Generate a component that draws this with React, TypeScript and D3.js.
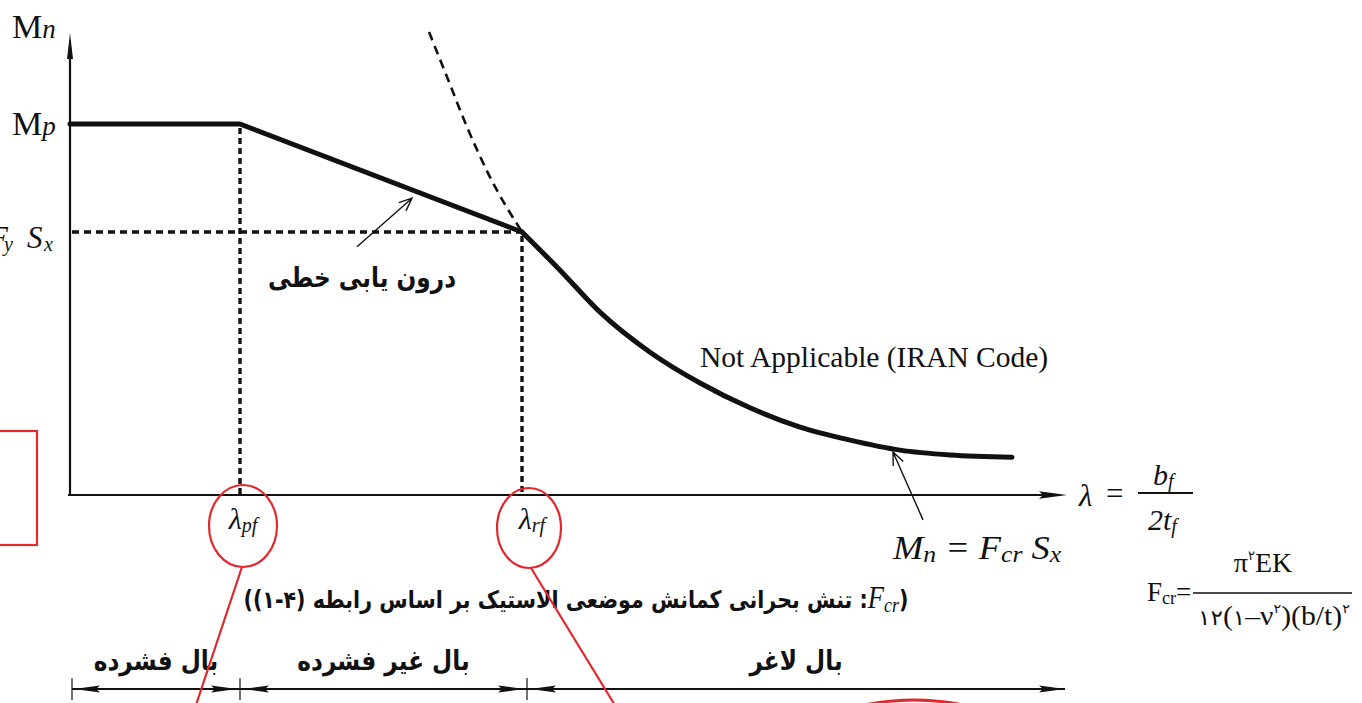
import React from "react";
import * as d3 from "d3";

// Slenderness λ = bf / 2tf along x (arbitrary units), nominal moment Mn / Mp along y.
const lambdaPf = 17.0;
const lambdaRf = 45.2;
const lambdaAxisEnd = 99.7;
const momentAxisEnd = 1.245;
const mpLevel = 1.0;
const fySxLevel = 0.709;

// Plastic plateau and linear interpolation branch
const inelasticLambda = [0, 17.0, 45.2];
const inelasticMoment = [1.0, 1.0, 0.709];

// Elastic local-buckling branch Mn = Fcr Sx (solid part)
const elasticLambda = [45.2, 49.0, 53.0, 58.0, 63.0, 68.0, 73.0, 78.0, 83.0, 88.0, 94.2];
const elasticMoment = [0.709, 0.606, 0.493, 0.385, 0.302, 0.235, 0.183, 0.148, 0.121, 0.108, 0.102];

// Elastic curve continued above Fy Sx (dashed, not valid)
const bucklingLambda = [35.9, 37.7, 39.7, 42.0, 45.2];
const bucklingMoment = [1.248, 1.127, 0.992, 0.857, 0.709];

// Flange classification zones below the chart
const zoneBounds = [0.2, 17.0, 45.7, 99.5];
const zoneLabels = ["بال فشرده", "بال غیر فشرده", "بال لاغر"];

const SERIF = "'Liberation Serif', 'Times New Roman', serif";
const FA = "'DejaVu Sans', sans-serif";
const RED = "#e2282c";
const INK = "#111";
const FA_SQUEEZE = 0.86;

type P = [number, number];
const zip = (a: number[], b: number[]): P[] => a.map((v, i) => [v, b[i]]);

function filledHead(tipX: number, tipY: number, dir: 1 | -1, len = 26, half = 3.6) {
  const bx = tipX - dir * len;
  return `M${tipX},${tipY} L${bx},${tipY - half} L${bx + dir * 4},${tipY} L${bx},${tipY + half} Z`;
}

function openArrow(x1: number, y1: number, x2: number, y2: number, len = 13, spread = 0.42) {
  const a = Math.atan2(y2 - y1, x2 - x1);
  const p1: P = [x2 - len * Math.cos(a - spread), y2 - len * Math.sin(a - spread)];
  const p2: P = [x2 - len * Math.cos(a + spread), y2 - len * Math.sin(a + spread)];
  return `M${x1},${y1} L${x2},${y2} M${p1[0]},${p1[1]} L${x2},${y2} L${p2[0]},${p2[1]}`;
}

// Persian label, centred and slightly condensed
function FaLabel({ cx, y, size, children }: { cx: number; y: number; size: number; children: React.ReactNode }) {
  return (
    <g transform={`translate(${cx},${y}) scale(${FA_SQUEEZE},1)`}>
      <text x={0} y={0} textAnchor="middle" direction="rtl" fontFamily={FA} fontWeight="bold" fontSize={size} fill={INK}>
        {children}
      </text>
    </g>
  );
}

export default function App() {
  const W = 1362;
  const H = 703;
  const x = d3.scaleLinear().domain([0, 100]).range([70, 1070]);
  const y = d3.scaleLinear().domain([0, 1]).range([495, 124]);

  const straight = d3.line<P>().x((d) => x(d[0])).y((d) => y(d[1]));
  const smooth = d3
    .line<P>()
    .x((d) => x(d[0]))
    .y((d) => y(d[1]))
    .curve(d3.curveMonotoneX);

  const x0 = x(0);
  const y0 = y(0);
  const xPf = x(lambdaPf);
  const xRf = x(lambdaRf);
  const yMp = y(mpLevel);
  const yFy = y(fySxLevel);
  const xEnd = x(lambdaAxisEnd);
  const yTop = y(momentAxisEnd);

  const dimY = 689;
  const zoneX = zoneBounds.map((b) => x(b));

  // annotation arrows, anchored in chart units
  const interpArrow = openArrow(x(28.7), y(0.669), x(34.2), y(0.8), 14, 0.4);
  const fcrArrow = openArrow(x(85.3), y(-0.067), x(82.3), y(0.116), 14, 0.4);

  return (
    <svg
      width={W}
      height={H}
      style={{ position: "absolute", left: 0, top: 0, display: "block", background: "#fff" }}
    >
      <rect width={W} height={H} fill="#fff" />

      {/* axes */}
      <line x1={x0} y1={y0} x2={x0} y2={yTop + 20} stroke={INK} strokeWidth={2.2} />
      <path d={`M${x0},${yTop} L${x0 - 3},${yTop + 26} L${x0 + 3},${yTop + 26} Z`} fill={INK} />
      <line x1={x0 - 2} y1={y0} x2={xEnd - 20} y2={y0} stroke={INK} strokeWidth={2.2} />
      <path d={filledHead(xEnd, y0, 1, 28, 3.8)} fill={INK} />

      {/* guide lines */}
      <line x1={x0 + 2} y1={yFy} x2={xRf} y2={yFy} stroke={INK} strokeWidth={3.4} strokeDasharray="7 5" />
      <line x1={xPf} y1={yMp + 4} x2={xPf} y2={y0} stroke={INK} strokeWidth={3.4} strokeDasharray="6 4" />
      <line x1={xRf} y1={yFy + 4} x2={xRf} y2={y0} stroke={INK} strokeWidth={3.4} strokeDasharray="6 4" />

      {/* elastic buckling curve above Fy Sx */}
      <path
        d={smooth(zip(bucklingLambda, bucklingMoment)) || ""}
        fill="none"
        stroke={INK}
        strokeWidth={2.6}
        strokeDasharray="9 6"
      />

      {/* nominal moment curve */}
      <path
        d={straight(zip(inelasticLambda, inelasticMoment)) || ""}
        fill="none"
        stroke={INK}
        strokeWidth={5}
        strokeLinejoin="round"
        strokeLinecap="round"
      />
      <path
        d={smooth(zip(elasticLambda, elasticMoment)) || ""}
        fill="none"
        stroke={INK}
        strokeWidth={5}
        strokeLinecap="round"
      />

      {/* axis labels */}
      <text x={12} y={38} fontFamily={SERIF} fontSize={34} fill={INK}>
        M<tspan fontStyle="italic" fontSize={27}>n</tspan>
      </text>
      <text x={12} y={yMp + 11} fontFamily={SERIF} fontSize={34} fill={INK}>
        M<tspan fontStyle="italic" fontSize={27}>p</tspan>
      </text>
      <g fontFamily={SERIF} fontStyle="italic" fill={INK}>
        <text x={-11} y={yFy + 16} fontSize={31}>F</text>
        <text x={4} y={yFy + 19} fontSize={20}>y</text>
        <text x={27} y={yFy + 16} fontSize={31}>S</text>
        <text x={44} y={yFy + 19} fontSize={20}>x</text>
      </g>

      <text x={xPf + 3} y={y0 + 34} textAnchor="middle" fontFamily={SERIF} fontStyle="italic" fontSize={30} fill={INK}>
        λ<tspan fontSize={20} dy={3}>pf</tspan>
      </text>
      <text x={xRf + 10} y={y0 + 34} textAnchor="middle" fontFamily={SERIF} fontStyle="italic" fontSize={30} fill={INK}>
        λ<tspan fontSize={20} dy={3}>rf</tspan>
      </text>

      {/* λ = bf / 2tf */}
      <text x={1079} y={y0 + 11} fontFamily={SERIF} fontStyle="italic" fontSize={31} fill={INK}>
        λ
      </text>
      <text x={1106} y={y0 + 9} fontFamily={SERIF} fontSize={31} fill={INK}>
        =
      </text>
      <line x1={1138} y1={y0 - 2} x2={1193} y2={y0 - 2} stroke={INK} strokeWidth={2} />
      <text x={1153} y={y0 - 10} fontFamily={SERIF} fontStyle="italic" fontSize={30} fill={INK}>
        b<tspan fontSize={20} dy={3}>f</tspan>
      </text>
      <text x={1148} y={y0 + 35} fontFamily={SERIF} fontStyle="italic" fontSize={30} fill={INK}>
        2t<tspan fontSize={20} dy={3}>f</tspan>
      </text>

      {/* curve annotations */}
      <FaLabel cx={x(29.2)} y={287} size={27}>
        درون یابی خطی
      </FaLabel>
      <path d={interpArrow} fill="none" stroke={INK} strokeWidth={1.4} />

      <text x={700} y={367} fontFamily={SERIF} fontSize={29.5} fill={INK}>
        Not Applicable (IRAN Code)
      </text>

      <path d={fcrArrow} fill="none" stroke={INK} strokeWidth={1.4} />
      <g transform="translate(893,559) scale(1.07,1)">
        <text x={0} y={0} fontFamily={SERIF} fontStyle="italic" fontSize={34} fill={INK}>
          M<tspan fontSize={24} dy={3}>n</tspan>
          <tspan dy={-3}> = F</tspan>
          <tspan fontSize={24} dy={3}>cr</tspan>
          <tspan dy={-3}> S</tspan>
          <tspan fontSize={24} dy={3}>x</tspan>
        </text>
      </g>

      {/* Fcr definition */}
      <FaLabel cx={576} y={608} size={24}>
        (<tspan fontFamily={SERIF} fontWeight="normal" fontStyle="italic" fontSize={31}>F</tspan>
        <tspan fontFamily={SERIF} fontWeight="normal" fontStyle="italic" fontSize={21} dy={4}>cr</tspan>
        <tspan dy={-4}>: تنش بحرانی کمانش موضعی الاستیک بر اساس رابطه (۴-۱))</tspan>
      </FaLabel>

      <text x={1147} y={601} fontFamily={SERIF} fontSize={27} fill={INK}>
        F<tspan fontSize={18} dy={3}>cr</tspan>
        <tspan dy={-3}>=</tspan>
      </text>
      <line x1={1193} y1={593} x2={1352} y2={593} stroke={INK} strokeWidth={1.6} />
      <text x={1263} y={572} textAnchor="middle" fontFamily={SERIF} fontSize={28} fill={INK}>
        π<tspan fontFamily={FA} fontSize={13} dy={-12}>۲</tspan>
        <tspan dy={12}>EK</tspan>
      </text>
      <g transform="translate(1274,625) scale(1.1,1)">
        <text x={0} y={0} textAnchor="middle" fontFamily={SERIF} fontSize={27} fill={INK}>
          <tspan fontFamily={FA} fontSize={21}>۱۲</tspan>(<tspan fontFamily={FA} fontSize={21}>۱</tspan>–ν
          <tspan fontFamily={FA} fontSize={13} dy={-12}>۲</tspan>
          <tspan dy={12}>)(b/t)</tspan>
          <tspan fontFamily={FA} fontSize={13} dy={-12}>۲</tspan>
        </text>
      </g>

      {/* flange classification */}
      {zoneLabels.map((label, i) => (
        <FaLabel key={label} cx={(zoneX[i] + zoneX[i + 1]) / 2} y={670} size={27}>
          {label}
        </FaLabel>
      ))}
      <line x1={zoneX[0]} y1={dimY} x2={zoneX[3]} y2={dimY} stroke={INK} strokeWidth={1.8} />
      {zoneX.slice(0, 3).map((zx, i) => (
        <g key={`z${i}`}>
          <path d={filledHead(zx + (i === 0 ? 2 : 3), dimY, -1)} fill={INK} />
          <path d={filledHead(zoneX[i + 1] - (i === 2 ? 0 : 3), dimY, 1)} fill={INK} />
        </g>
      ))}
      {zoneX.slice(0, 3).map((zx, i) => (
        <line key={`t${i}`} x1={zx} y1={dimY - 11} x2={zx} y2={dimY + 11} stroke={INK} strokeWidth={1.2} />
      ))}

      {/* red highlights */}
      <ellipse cx={xPf + 3} cy={y0 + 31} rx={34} ry={41} fill="none" stroke={RED} strokeWidth={2.2} />
      <ellipse cx={xRf + 7} cy={y0 + 33} rx={32} ry={40} fill="none" stroke={RED} strokeWidth={2.2} />
      <line x1={xPf + 2} y1={y0 + 72} x2={xPf - 54} y2={y0 + 240} stroke={RED} strokeWidth={2.2} />
      <line x1={xRf + 9} y1={y0 + 73} x2={xRf + 102} y2={y0 + 225} stroke={RED} strokeWidth={2.2} />
      <rect x={-10} y={431} width={47} height={114} fill="none" stroke={RED} strokeWidth={2.2} />
      <ellipse cx={914} cy={790} rx={150} ry={90} fill="none" stroke={RED} strokeWidth={3} />
    </svg>
  );
}
